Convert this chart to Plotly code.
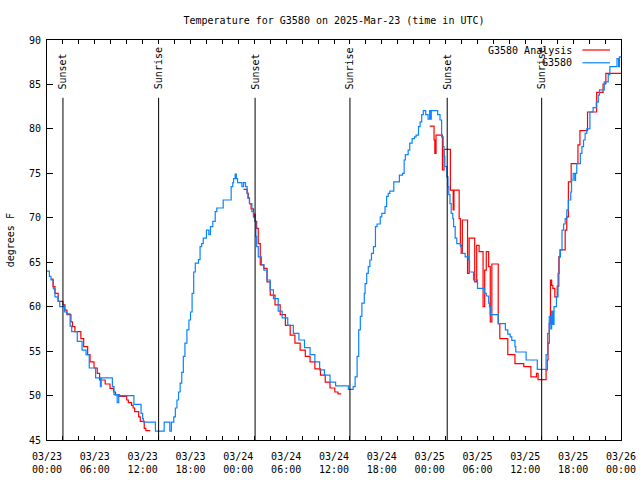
import pandas as pd
import plotly.graph_objects as go

START = pd.Timestamp("2025-03-23 00:00")
END_HOURS = 72

# Observed station temperatures (hours after 03/23 00:00 UTC, degrees F) - step data
blue_hours = [0.0, 0.3, 0.5, 0.8, 1.0, 1.4, 1.6, 2.2, 2.5, 2.9, 3.1, 3.8, 4.4, 4.9, 5.3,
              6.1, 6.7, 6.8, 8.2, 8.4, 8.8, 9.0, 9.1, 10.9, 11.8, 12.0, 12.1, 13.6, 14.7,
              15.4, 15.6, 15.9, 16.1, 16.3, 16.5, 16.7, 16.9, 17.1, 17.3, 17.55, 17.8,
              18.0, 18.2, 18.4, 18.6, 19.0, 19.2, 19.4, 19.6, 20.0, 20.3, 20.5, 20.8,
              21.1, 21.3, 22.1, 23.1, 23.3, 23.4, 23.6, 23.75, 23.9, 24.45, 24.65, 24.9,
              25.1, 25.2, 25.4, 25.7, 25.9, 26.1, 26.2, 26.3, 26.5, 26.9, 27.2, 27.6,
              28.0, 28.4, 29.0, 29.5, 30.2, 30.9, 31.6, 32.3, 33.0, 33.6, 34.2, 34.8,
              35.5, 36.2, 37.8, 38.4, 38.65, 38.9, 39.1, 39.3, 39.5, 39.8, 39.9, 40.1,
              40.3, 40.5, 40.7, 40.95, 41.2, 41.4, 41.8, 42.0, 42.4, 42.6, 42.8, 43.0,
              43.5, 44.2, 44.6, 44.8, 44.95, 45.3, 45.5, 45.8, 46.1, 46.3, 46.6, 46.8,
              47.0, 47.2, 47.5, 47.8, 48.0, 48.1, 48.2, 49.0, 49.3, 49.5, 49.7, 49.8,
              49.9, 50.15, 50.3, 50.4, 50.55, 50.7, 50.9, 51.0, 51.2, 51.4, 51.9, 52.0,
              52.45, 52.9, 53.0, 53.5, 54.0, 54.9, 55.1, 55.4, 55.5, 55.6, 56.6, 57.5,
              57.8, 58.1, 58.3, 58.7, 58.8, 60.1, 61.5, 62.6, 62.8, 63.0, 63.2, 63.3,
              63.45, 63.6, 63.9, 64.1, 64.25, 64.4, 64.6, 64.8, 65.0, 65.2, 65.4, 65.7,
              65.8, 66.0, 66.2, 66.3, 66.45, 66.9, 67.1, 67.3, 67.5, 67.7, 68.1, 68.5,
              68.9, 69.15, 69.3, 69.9, 70.4, 70.6, 71.5, 71.7, 71.8, 72.0]
blue_temps = [64.0, 63.4, 63.0, 62.0, 61.1, 60.6, 60.0, 59.4, 59.2, 57.8, 57.2, 56.1, 55.1, 54.6, 53.1,
              52.0, 51.0, 52.0, 51.0, 50.1, 49.2, 50.1, 50.0, 49.0, 48.0, 47.4, 47.0, 46.0, 47.0,
              46.0, 47.0, 47.6, 48.6, 49.5, 50.4, 51.4, 52.6, 54.4, 55.9, 57.4, 58.5,
              59.4, 61.5, 63.9, 64.9, 65.3, 66.75, 67.1, 67.7, 68.6, 68.1, 69.0, 69.6,
              70.7, 71.1, 72.0, 73.5, 73.95, 74.4, 74.9, 74.4, 73.95, 73.5, 73.95, 73.5,
              72.75, 72.2, 71.6, 70.7, 70.1, 69.6, 67.9, 66.75, 65.6, 64.7, 64.1, 63.0,
              61.9, 60.9, 59.5, 58.75, 57.9, 57.0, 56.25, 55.4, 54.6, 53.8, 52.9, 52.3,
              51.5, 51.1, 50.7, 51.0, 52.1, 54.4, 57.4, 58.9, 60.4, 61.5, 62.6, 63.75,
              64.5, 65.25, 66.0, 66.75, 69.0, 69.3, 70.1, 70.5, 71.25, 72.4, 72.75, 73.0,
              74.05, 74.8, 75.0, 76.5, 77.1, 77.6, 78.4, 78.9, 79.1, 79.3, 80.25, 80.8,
              81.6, 82.05, 81.6, 81.1, 82.05, 81.1, 82.05, 81.6, 81.0, 79.1, 78.0, 76.9,
              75.75, 74.6, 73.5, 72.6, 71.6, 70.5, 69.9, 69.0, 67.7, 67.1, 66.75, 66.0,
              65.6, 65.25, 63.9, 63.0, 62.05, 61.5, 61.2, 60.4, 60.0, 59.1, 58.1, 57.4,
              56.9, 56.6, 56.2, 55.5, 54.9, 54.0, 52.95, 54.6, 57.0, 58.9, 57.5, 59.5,
              58.0, 60.0, 61.1, 63.75, 65.6, 66.4, 68.6, 69.3, 69.9, 70.9, 72.0, 72.9,
              74.25, 75.0, 74.2, 75.0, 76.1, 77.25, 78.0, 78.75, 79.5, 80.0, 81.9, 82.4,
              83.0, 83.8, 84.4, 85.3, 86.1, 87.0, 87.9, 87.0, 88.1, 88.1]

# Analysis temperatures (None = no analysis)
red_hours = [0.5, 0.75, 1.0, 1.4, 2.0, 2.25, 2.5, 3.0, 3.2, 3.5, 4.25, 4.6, 5.1, 5.4, 5.9,
             6.3, 6.6, 7.3, 7.9, 8.35, 8.6, 9.0, 10.0, 10.2, 10.6, 10.8, 11.0, 11.5, 11.7,
             12.2, 12.4, 12.95, 13.0,
             24.65, 25.1, 25.25, 25.4, 25.6, 25.9, 26.0, 26.1, 26.3, 26.5, 26.75, 27.2,
             27.6, 28.0, 28.6, 29.25, 29.9, 30.5, 31.1, 31.75, 32.4, 33.0, 33.6, 34.3,
             34.9, 35.5, 36.1, 36.5, 36.9, 37.0,
             48.0, 48.55, 48.65, 48.8, 49.6, 49.8, 50.6, 50.95, 51.05, 51.7, 51.85, 51.95,
             52.1, 52.75, 52.95, 53.65, 53.9, 54.2, 54.7, 54.9, 55.1, 55.4, 55.6, 55.8,
             56.6, 56.8, 57.8, 58.7, 59.8, 60.7, 61.4, 61.6, 62.6, 62.75, 62.85, 63.0,
             63.15, 63.3, 63.45, 63.7, 64.0, 64.2, 64.35, 65.0, 65.2, 65.4, 65.75, 66.6,
             66.85, 67.8, 68.95, 69.75, 70.1, 72.0]
red_temps = [63.1, 62.25, 61.5, 60.6, 60.2, 59.6, 59.1, 58.3, 57.75, 57.2, 56.4, 55.5, 54.6, 53.8, 53.1,
             52.5, 51.75, 51.3, 50.8, 50.4, 50.06, 49.9, 49.5, 49.2, 48.9, 48.6, 48.2, 47.6, 47.1,
             46.3, 46.05, 46.05, None,
             73.2, 72.75, 72.2, 71.6, 71.0, 70.1, 70.4, 69.6, 68.8, 67.1, 64.7, 64.3,
             62.8, 61.3, 60.2, 59.1, 57.9, 56.8, 55.9, 55.1, 54.4, 53.8, 53.0, 52.3,
             51.5, 50.85, 50.4, 50.2, 50.2, None,
             80.3, 78.75, 77.25, 79.3, 75.4, 77.7, 73.1, 70.9, 73.1, 69.9, 66.9, 66.0,
             69.75, 63.75, 67.7, 62.8, 66.9, 66.2, 60.0, 64.1, 66.2, 64.5, 58.3, 64.8,
             58.1, 56.4, 54.6, 53.6, 53.25, 52.1, 52.5, 51.8, 52.9, 54.0, 55.9, 58.1,
             63.0, 62.4, 62.05, 61.1, 62.3, 65.6, 66.4, 68.6, 70.1, 74.05, 76.1, 78.2,
             79.8, 81.9, 84.1, 85.05, 86.25, 86.25]

sunset_hours = [2.0, 26.1, 50.2]
sunrise_hours = [14.0, 38.0, 62.05]

x_tick_hours = list(range(0, END_HOURS + 1, 2))
y_ticks = [45, 50, 55, 60, 65, 70, 75, 80, 85, 90]
y_range = [45, 90]
event_line_top = 83.5
event_label_base = 84.2

title_text = "Temperature for G3580 on 2025-Mar-23 (time in UTC)"
y_title = "degrees F"
series_names = ["G3580 Analysis", "G3580"]
series_colors = ["#ff0000", "#0a84ff"]

FONT = "DejaVu Sans Mono"


def to_time(hours):
    return [START + pd.Timedelta(hours=h) for h in hours]


fig = go.Figure()
fig.add_trace(go.Scatter(x=to_time(red_hours), y=red_temps, mode="lines",
                         line=dict(color=series_colors[0], width=1.2, shape="hv"),
                         connectgaps=False, name=series_names[0], showlegend=False))
fig.add_trace(go.Scatter(x=to_time(blue_hours), y=blue_temps, mode="lines",
                         line=dict(color=series_colors[1], width=1.2, shape="hv"),
                         name=series_names[1], showlegend=False))

# sunrise / sunset markers
for hours, label in ((sunset_hours, "Sunset"), (sunrise_hours, "Sunrise")):
    for t in to_time(hours):
        fig.add_shape(type="line", xref="x", yref="y", x0=t, x1=t,
                      y0=y_range[0], y1=event_line_top,
                      line=dict(color="black", width=1))
        fig.add_annotation(x=t, y=event_label_base, xref="x", yref="y", text=label,
                           textangle=-90, showarrow=False, xanchor="center",
                           yanchor="bottom", font=dict(family=FONT, size=10, color="black"))

# custom gnuplot-like legend (text right, sample line after)
legend_rows = [0.975, 0.943]
for name, color, yy in zip(series_names, series_colors, legend_rows):
    fig.add_annotation(x=0.918, y=yy, xref="paper", yref="paper", text=name,
                       showarrow=False, xanchor="right", yanchor="middle",
                       font=dict(family=FONT, size=10, color="black"))
    fig.add_shape(type="line", xref="paper", yref="paper", x0=0.9328, x1=0.9808,
                  y0=yy, y1=yy, line=dict(color=color, width=1.2))

fig.add_annotation(x=-0.064, y=0.5, xref="paper", yref="paper", text=y_title,
                   textangle=-90, showarrow=False, xanchor="center", yanchor="middle",
                   font=dict(family=FONT, size=10, color="black"))

tick_times = to_time(x_tick_hours)
tick_text = [(START + pd.Timedelta(hours=h)).strftime("%m/%d<br>%H:%M") if h % 6 == 0 else ""
             for h in x_tick_hours]

fig.update_layout(
    width=640, height=480,
    margin=dict(l=47, r=19, t=40, b=40),
    paper_bgcolor="white", plot_bgcolor="white",
    title=dict(text=title_text, x=0.5, xref="paper", y=1 - 20 / 480, yanchor="middle",
               font=dict(family=FONT, size=10, color="black"), automargin=False),
    font=dict(family=FONT, size=10, color="black"),
    xaxis=dict(type="date", range=[START, START + pd.Timedelta(hours=END_HOURS)],
               tickmode="array", tickvals=tick_times, ticktext=tick_text,
               ticks="inside", ticklen=4, tickcolor="black", mirror="allticks",
               showline=True, linecolor="black", linewidth=1, showgrid=False,
               zeroline=False, ticklabelstandoff=7, automargin=False,
               tickfont=dict(family=FONT, size=10, color="black")),
    yaxis=dict(range=y_range, tickmode="array", tickvals=y_ticks,
               ticks="inside", ticklen=6, tickcolor="black", mirror="allticks",
               showline=True, linecolor="black", linewidth=1, showgrid=False,
               zeroline=False, ticklabelstandoff=3, automargin=False,
               tickfont=dict(family=FONT, size=10, color="black")),
    showlegend=False,
)

fig.write_html("out.html", config={"displayModeBar": False},
               post_script="document.body.style.margin='0';document.body.style.padding='0';")
